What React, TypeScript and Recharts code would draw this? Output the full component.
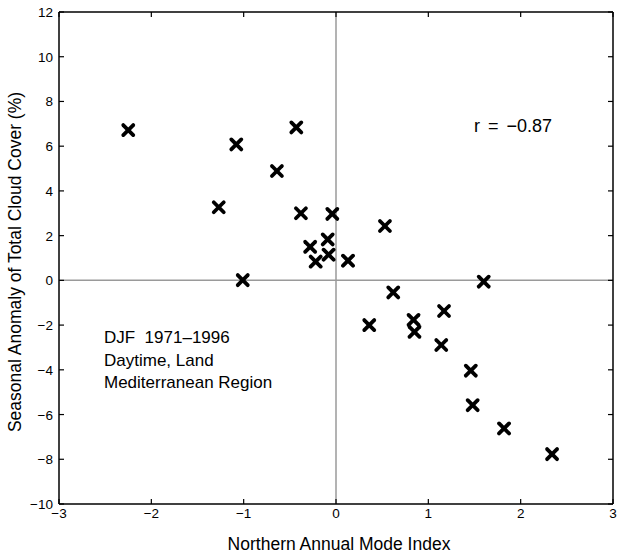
import { ScatterChart, Scatter, XAxis, YAxis, ReferenceLine } from "recharts";

// NAM index (x) vs. DJF cloud cover anomaly (y), one entry per winter
const namIndex = [
  -2.25, -1.08, -0.43, -0.64, -1.27, -0.38, -0.04, -0.09, -0.28, -0.08, -0.22, 0.13,
  -1.01, 0.53, 1.6, 0.62, 1.17, 0.36, 0.84, 0.85, 1.14, 1.46, 1.48, 1.82, 2.34,
];
const cloudAnomaly = [
  6.72, 6.08, 6.84, 4.89, 3.27, 3.0, 2.97, 1.83, 1.5, 1.15, 0.84, 0.88,
  0.01, 2.43, -0.06, -0.54, -1.37, -2.0, -1.77, -2.3, -2.89, -4.04, -5.58, -6.62, -7.77,
];
const xTicks = [-3, -2, -1, 0, 1, 2, 3];
const yTicks = [-10, -8, -6, -4, -2, 0, 2, 4, 6, 8, 10, 12];
const infoLines = ["DJF  1971\u20131996", "Daytime, Land", "Mediterranean Region"];
const corrLabel = "r = \u22120.87";

const points = namIndex.map((x, i) => ({ x, y: cloudAnomaly[i] }));

const FONT = "'Liberation Sans', Arial, Helvetica, sans-serif";
const TICK = 5;

const fmt = (v: number) => (v < 0 ? "\u2212" + Math.abs(v) : String(v));

const BottomTick = (props: any) => {
  const { x, y, payload } = props;
  return (
    <g>
      <line x1={x} y1={y} x2={x} y2={y - TICK} stroke="#000" strokeWidth={1.2} />
      <text x={x} y={y + 14} textAnchor="middle" fontSize={13.5} fontFamily={FONT} fill="#000">
        {fmt(payload.value)}
      </text>
    </g>
  );
};

const LeftTick = (props: any) => {
  const { x, y, payload } = props;
  return (
    <g>
      <line x1={x} y1={y} x2={x + TICK} y2={y} stroke="#000" strokeWidth={1.2} />
      <text x={x - 6} y={y + 5} textAnchor="end" fontSize={13.5} fontFamily={FONT} fill="#000">
        {fmt(payload.value)}
      </text>
    </g>
  );
};

const TopTick = (props: any) => {
  const { x, y } = props;
  return <line x1={x} y1={y} x2={x} y2={y + TICK} stroke="#000" strokeWidth={1.2} />;
};

const RightTick = (props: any) => {
  const { x, y } = props;
  return <line x1={x} y1={y} x2={x - TICK} y2={y} stroke="#000" strokeWidth={1.2} />;
};

const Cross = (props: any) => {
  const { cx, cy } = props;
  const s = 5;
  return (
    <g stroke="#000" strokeWidth={3.8} strokeLinecap="round">
      <line x1={cx - s} y1={cy - s} x2={cx + s} y2={cy + s} />
      <line x1={cx - s} y1={cy + s} x2={cx + s} y2={cy - s} />
    </g>
  );
};

const Nothing = () => <g />;

const axisLine = { stroke: "#000", strokeWidth: 1.5 };

export default function App() {
  return (
    <div style={{ position: "absolute", left: 0, top: 0, width: 618, height: 552, background: "#fff", fontFamily: FONT }}>
      <ScatterChart width={618} height={552} margin={{ top: 11, right: 4, bottom: 0, left: 0 }}>
        <XAxis
          xAxisId="b"
          dataKey="x"
          type="number"
          domain={[-3, 3]}
          ticks={xTicks}
          height={48}
          tickSize={0}
          tickMargin={0}
          tickLine={false}
          axisLine={axisLine}
          tick={<BottomTick />}
          allowDataOverflow
        />
        <XAxis
          xAxisId="t"
          dataKey="x"
          orientation="top"
          type="number"
          domain={[-3, 3]}
          ticks={xTicks}
          height={1}
          tickSize={0}
          tickMargin={0}
          tickLine={false}
          axisLine={axisLine}
          tick={<TopTick />}
          allowDataOverflow
        />
        <YAxis
          yAxisId="l"
          dataKey="y"
          type="number"
          domain={[-10, 12]}
          ticks={yTicks}
          width={59}
          tickSize={0}
          tickMargin={0}
          tickLine={false}
          axisLine={axisLine}
          tick={<LeftTick />}
          allowDataOverflow
        />
        <YAxis
          yAxisId="r"
          dataKey="y"
          orientation="right"
          type="number"
          domain={[-10, 12]}
          ticks={yTicks}
          width={1}
          tickSize={0}
          tickMargin={0}
          tickLine={false}
          axisLine={axisLine}
          tick={<RightTick />}
          allowDataOverflow
        />
        <ReferenceLine xAxisId="b" yAxisId="l" x={0} stroke="#9a9a9a" strokeWidth={1.5} />
        <ReferenceLine xAxisId="b" yAxisId="l" y={0} stroke="#9a9a9a" strokeWidth={1.5} />
        <Scatter xAxisId="t" yAxisId="r" data={points} shape={<Nothing />} isAnimationActive={false} />
        <Scatter xAxisId="b" yAxisId="l" data={points} shape={<Cross />} isAnimationActive={false} />
      </ScatterChart>

      <div
        style={{
          position: "absolute",
          left: 15,
          top: 262,
          transform: "translate(-50%, -50%) rotate(-90deg)",
          whiteSpace: "nowrap",
          fontSize: 17.5,
        }}
      >
        Seasonal Anomaly of Total Cloud Cover (%)
      </div>
      <div
        style={{
          position: "absolute",
          left: 339,
          top: 544,
          transform: "translate(-50%, -50%)",
          whiteSpace: "nowrap",
          fontSize: 17.5,
        }}
      >
        Northern Annual Mode Index
      </div>
      <div
        style={{
          position: "absolute",
          left: 474,
          top: 126,
          transform: "translateY(-50%)",
          whiteSpace: "nowrap",
          fontSize: 18,
          wordSpacing: 3,
        }}
      >
        {corrLabel}
      </div>
      <div style={{ position: "absolute", left: 104, top: 327, fontSize: 17, lineHeight: "22.5px", whiteSpace: "pre" }}>
        {infoLines.map((t) => (
          <div key={t}>{t}</div>
        ))}
      </div>
    </div>
  );
}
